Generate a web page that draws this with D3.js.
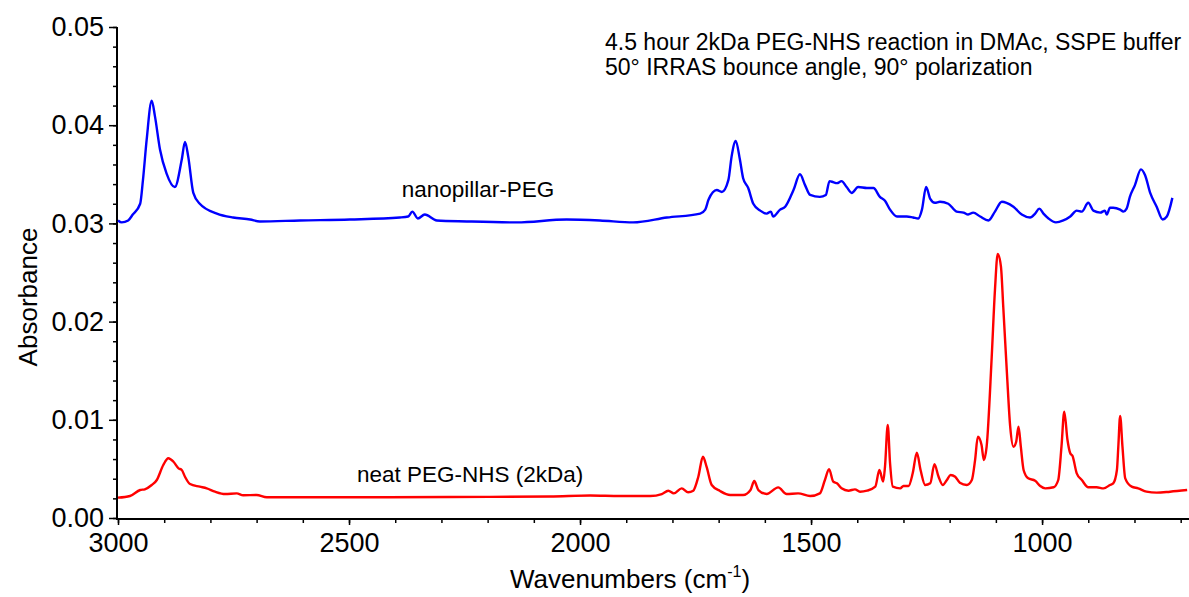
<!DOCTYPE html>
<html>
<head>
<meta charset="utf-8">
<script src="https://cdn.jsdelivr.net/npm/d3@7"></script>
<style>
  html, body { margin: 0; padding: 0; background: #fff; }
  #canvas { width: 1189px; height: 597px; }
  text { font-family: "Liberation Sans", Arial, sans-serif; fill: #000; }
</style>
</head>
<body>
<div id="canvas"></div>
<script>
// spectra (wavenumbers in cm-1, absorbance)
const blueWavenumbers = [
  3000, 2992, 2978, 2968, 2952, 2946, 2938, 2927, 2920, 2909,
  2895, 2877, 2862, 2855, 2848, 2837, 2823, 2786, 2751, 2714,
  2693, 2606, 2498, 2390, 2372, 2363, 2351, 2336, 2310, 2245,
  2137, 2029, 1957, 1885, 1812, 1740, 1729, 1722, 1704, 1693,
  1679, 1672, 1663, 1654, 1647, 1636, 1625, 1610, 1596, 1587,
  1582, 1567, 1556, 1538, 1524, 1513, 1502, 1481, 1468, 1460,
  1452, 1444, 1434, 1423, 1412, 1398, 1379, 1365, 1351, 1340,
  1329, 1314, 1293, 1279, 1268, 1260, 1251, 1242, 1232, 1221,
  1203, 1185, 1170, 1160, 1149, 1134, 1116, 1102, 1087, 1077,
  1062, 1044, 1026, 1015, 1006, 997, 986, 970, 954, 939,
  925, 914, 900, 889, 874, 864, 860, 853, 846, 831,
  824, 817, 810, 799, 786, 777, 766, 752, 739, 730, 718
];
const blueAbsorbance = [
  0.0303, 0.0301, 0.0303, 0.0309, 0.0320, 0.0344, 0.0385, 0.0425, 0.0409, 0.0375,
  0.0351, 0.0337, 0.0365, 0.0383, 0.0368, 0.0331, 0.0320, 0.0310, 0.0306, 0.0304,
  0.0302, 0.0303, 0.0304, 0.0306, 0.0307, 0.0312, 0.0305, 0.0309, 0.0303, 0.0302,
  0.0301, 0.0304, 0.0303, 0.0301, 0.0306, 0.0310, 0.0314, 0.0324, 0.0334, 0.0332,
  0.0344, 0.0368, 0.0384, 0.0365, 0.0346, 0.0336, 0.0320, 0.0313, 0.0310, 0.0312,
  0.0307, 0.0314, 0.0317, 0.0334, 0.0350, 0.0339, 0.0329, 0.0327, 0.0329, 0.0343,
  0.0342, 0.0341, 0.0343, 0.0337, 0.0331, 0.0337, 0.0336, 0.0336, 0.0327, 0.0323,
  0.0314, 0.0307, 0.0307, 0.0306, 0.0305, 0.0314, 0.0337, 0.0325, 0.0321, 0.0322,
  0.0320, 0.0312, 0.0311, 0.0309, 0.0311, 0.0307, 0.0303, 0.0312, 0.0322, 0.0321,
  0.0317, 0.0309, 0.0306, 0.0310, 0.0315, 0.0310, 0.0305, 0.0301, 0.0303, 0.0307,
  0.0313, 0.0312, 0.0321, 0.0313, 0.0311, 0.0313, 0.0309, 0.0316, 0.0316, 0.0314,
  0.0312, 0.0315, 0.0327, 0.0339, 0.0355, 0.0349, 0.0331, 0.0317, 0.0304, 0.0307, 0.0326
];
const redWavenumbers = [
  3000, 2974, 2952, 2942, 2927, 2916, 2902, 2891, 2880, 2869,
  2862, 2855, 2844, 2823, 2808, 2790, 2768, 2743, 2729, 2700,
  2678, 2498, 2281, 2065, 1978, 1913, 1848, 1823, 1809, 1797,
  1780, 1766, 1755, 1744, 1734, 1726, 1715, 1697, 1675, 1647,
  1631, 1623, 1614, 1596, 1571, 1553, 1528, 1502, 1481, 1470,
  1461, 1452, 1444, 1434, 1419, 1405, 1394, 1379, 1361, 1352,
  1344, 1340, 1334, 1329, 1323, 1307, 1300, 1289, 1280, 1271,
  1263, 1253, 1242, 1233, 1224, 1215, 1206, 1198, 1188, 1178,
  1163, 1152, 1145, 1139, 1131, 1126, 1120, 1109, 1102, 1096,
  1089, 1084, 1076, 1069, 1062, 1056, 1051, 1046, 1040, 1030,
  1015, 1004, 993, 975, 965, 958, 952, 945, 939, 934,
  925, 914, 900, 882, 867, 853, 846, 838, 835, 831,
  826, 820, 806, 792, 774, 752, 723, 686
];
const redAbsorbance = [
  0.00207, 0.00224, 0.00285, 0.00292, 0.00336, 0.00387, 0.00540, 0.00608, 0.00573, 0.00506,
  0.00489, 0.00420, 0.00346, 0.00319, 0.00302, 0.00268, 0.00244, 0.00251, 0.00231, 0.00234,
  0.00211, 0.00211, 0.00214, 0.00219, 0.00229, 0.00224, 0.00224, 0.00244, 0.00278, 0.00251,
  0.00302, 0.00262, 0.00278, 0.00420, 0.00624, 0.00520, 0.00336, 0.00275, 0.00234, 0.00234,
  0.00285, 0.00377, 0.00285, 0.00244, 0.00312, 0.00244, 0.00251, 0.00224, 0.00251, 0.00387,
  0.00496, 0.00370, 0.00353, 0.00302, 0.00278, 0.00292, 0.00268, 0.00278, 0.00319, 0.00489,
  0.00370, 0.00520, 0.00947, 0.00557, 0.00319, 0.00302, 0.00326, 0.00326, 0.00455, 0.00665,
  0.00489, 0.00336, 0.00353, 0.00547, 0.00420, 0.00336, 0.00387, 0.00438, 0.00420, 0.00359,
  0.00336, 0.00387, 0.00590, 0.00828, 0.00743, 0.00590, 0.00726, 0.01640, 0.02320, 0.02690,
  0.02560, 0.02150, 0.01470, 0.00930, 0.00726, 0.00777, 0.00930, 0.00726, 0.00489, 0.00404,
  0.00380, 0.00326, 0.00302, 0.00313, 0.00387, 0.00726, 0.01083, 0.00794, 0.00659, 0.00631,
  0.00455, 0.00387, 0.00313, 0.00313, 0.00302, 0.00336, 0.00353, 0.00489, 0.00726, 0.01039,
  0.00726, 0.00404, 0.00319, 0.00302, 0.00268, 0.00258, 0.00268, 0.00285
];

const xMajorTicks = [3000, 2500, 2000, 1500, 1000];
const xMinorTicks = d3.range(3000, 690, -100);
const yMajorTicks = [0, 0.01, 0.02, 0.03, 0.04, 0.05];
const yMinorTicks = d3.range(0, 0.0501, 0.002);
const seriesLabels = ["nanopillar-PEG", "neat PEG-NHS (2kDa)"];
const noteLines = [
  "4.5 hour 2kDa PEG-NHS reaction in DMAc, SSPE buffer",
  "50\u00b0 IRRAS bounce angle, 90\u00b0 polarization"
];

let width = 1189, height = 597;
let margin = { top: 27, right: 0, bottom: 79, left: 118 };

let svg = d3.select('#canvas').append('svg')
  .attr('width', width)
  .attr('height', height)
  .attr('viewBox', '0 0 ' + width + ' ' + height);

let x = d3.scaleLinear().domain([3000, 682]).range([margin.left, width - margin.right]);
let y = d3.scaleLinear().domain([0, 0.05]).range([height - margin.bottom, margin.top]);
let axisY = y(0) + 1;

//Add axes
let gx = svg.append('g').attr('transform', 'translate(0,' + axisY + ')');
gx.call(d3.axisBottom(x).tickValues(xMinorTicks).tickSize(4).tickFormat(''));
gx.call(g => g.selectAll('.tick line').attr('stroke-width', 1.5));
let gxMajor = svg.append('g').attr('transform', 'translate(0,' + axisY + ')')
  .call(d3.axisBottom(x).tickValues(xMajorTicks).tickSize(6).tickPadding(8).tickFormat(d3.format('d')));
gxMajor.selectAll('.tick line').attr('stroke-width', 1.5);
gxMajor.selectAll('.tick text').attr('font-size', 27).attr('font-family', '"Liberation Sans", Arial, sans-serif');
[gx, gxMajor].forEach(g => g.select('.domain').attr('d', 'M' + (x(3000) - 1) + ',0H' + width).attr('stroke-width', 2));

let gy = svg.append('g').attr('transform', 'translate(' + (x(3000) - 1) + ',0)');
gy.call(d3.axisLeft(y).tickValues(yMinorTicks).tickSize(4).tickFormat(''));
gy.selectAll('.tick line').attr('stroke-width', 1.5);
let gyMajor = svg.append('g').attr('transform', 'translate(' + (x(3000) - 1) + ',0)')
  .call(d3.axisLeft(y).tickValues(yMajorTicks).tickSize(8).tickPadding(5).tickFormat(d3.format('.2f')));
gyMajor.selectAll('.tick line').attr('stroke-width', 1.5);
gyMajor.selectAll('.tick text').attr('font-size', 27).attr('font-family', '"Liberation Sans", Arial, sans-serif');
[gy, gyMajor].forEach(g => g.select('.domain').attr('d', 'M0,' + y(0.05) + 'V' + (axisY + 1)).attr('stroke-width', 2));

//Axis titles
let xt = svg.append('text')
  .attr('x', 630).attr('y', 588)
  .attr('text-anchor', 'middle')
  .attr('font-size', 26);
xt.append('tspan').text('Wavenumbers (cm');
xt.append('tspan').attr('font-size', 16).attr('dy', -11).text('-1');
xt.append('tspan').attr('dy', 11).text(')');

svg.append('text')
  .attr('transform', 'translate(37,' + 297 + ') rotate(-90)')
  .attr('text-anchor', 'middle')
  .attr('font-size', 26)
  .text('Absorbance');

//Spectra
let line = d3.line()
  .x(d => x(d[0]))
  .y(d => y(d[1]))
  .curve(d3.curveMonotoneX);

let spectra = [
  { data: d3.zip(blueWavenumbers, blueAbsorbance), color: '#0000ff' },
  { data: d3.zip(redWavenumbers, redAbsorbance), color: '#ff0000' }
];
svg.append('g').selectAll('path')
  .data(spectra)
  .join('path')
  .attr('d', d => line(d.data))
  .attr('fill', 'none')
  .attr('stroke', d => d.color)
  .attr('stroke-width', 2.4)
  .attr('stroke-linejoin', 'round');

//Labels
svg.append('text').attr('x', 478).attr('y', 197).attr('text-anchor', 'middle')
  .attr('font-size', 22.5).text(seriesLabels[0]);
svg.append('text').attr('x', 357).attr('y', 482).attr('text-anchor', 'start')
  .attr('font-size', 22.5).text(seriesLabels[1]);

svg.append('g').selectAll('text')
  .data(noteLines)
  .join('text')
  .attr('x', 605)
  .attr('y', (d, i) => 49.5 + i * 25.5)
  .attr('font-size', 23)
  .text(d => d);
</script>
</body>
</html>
